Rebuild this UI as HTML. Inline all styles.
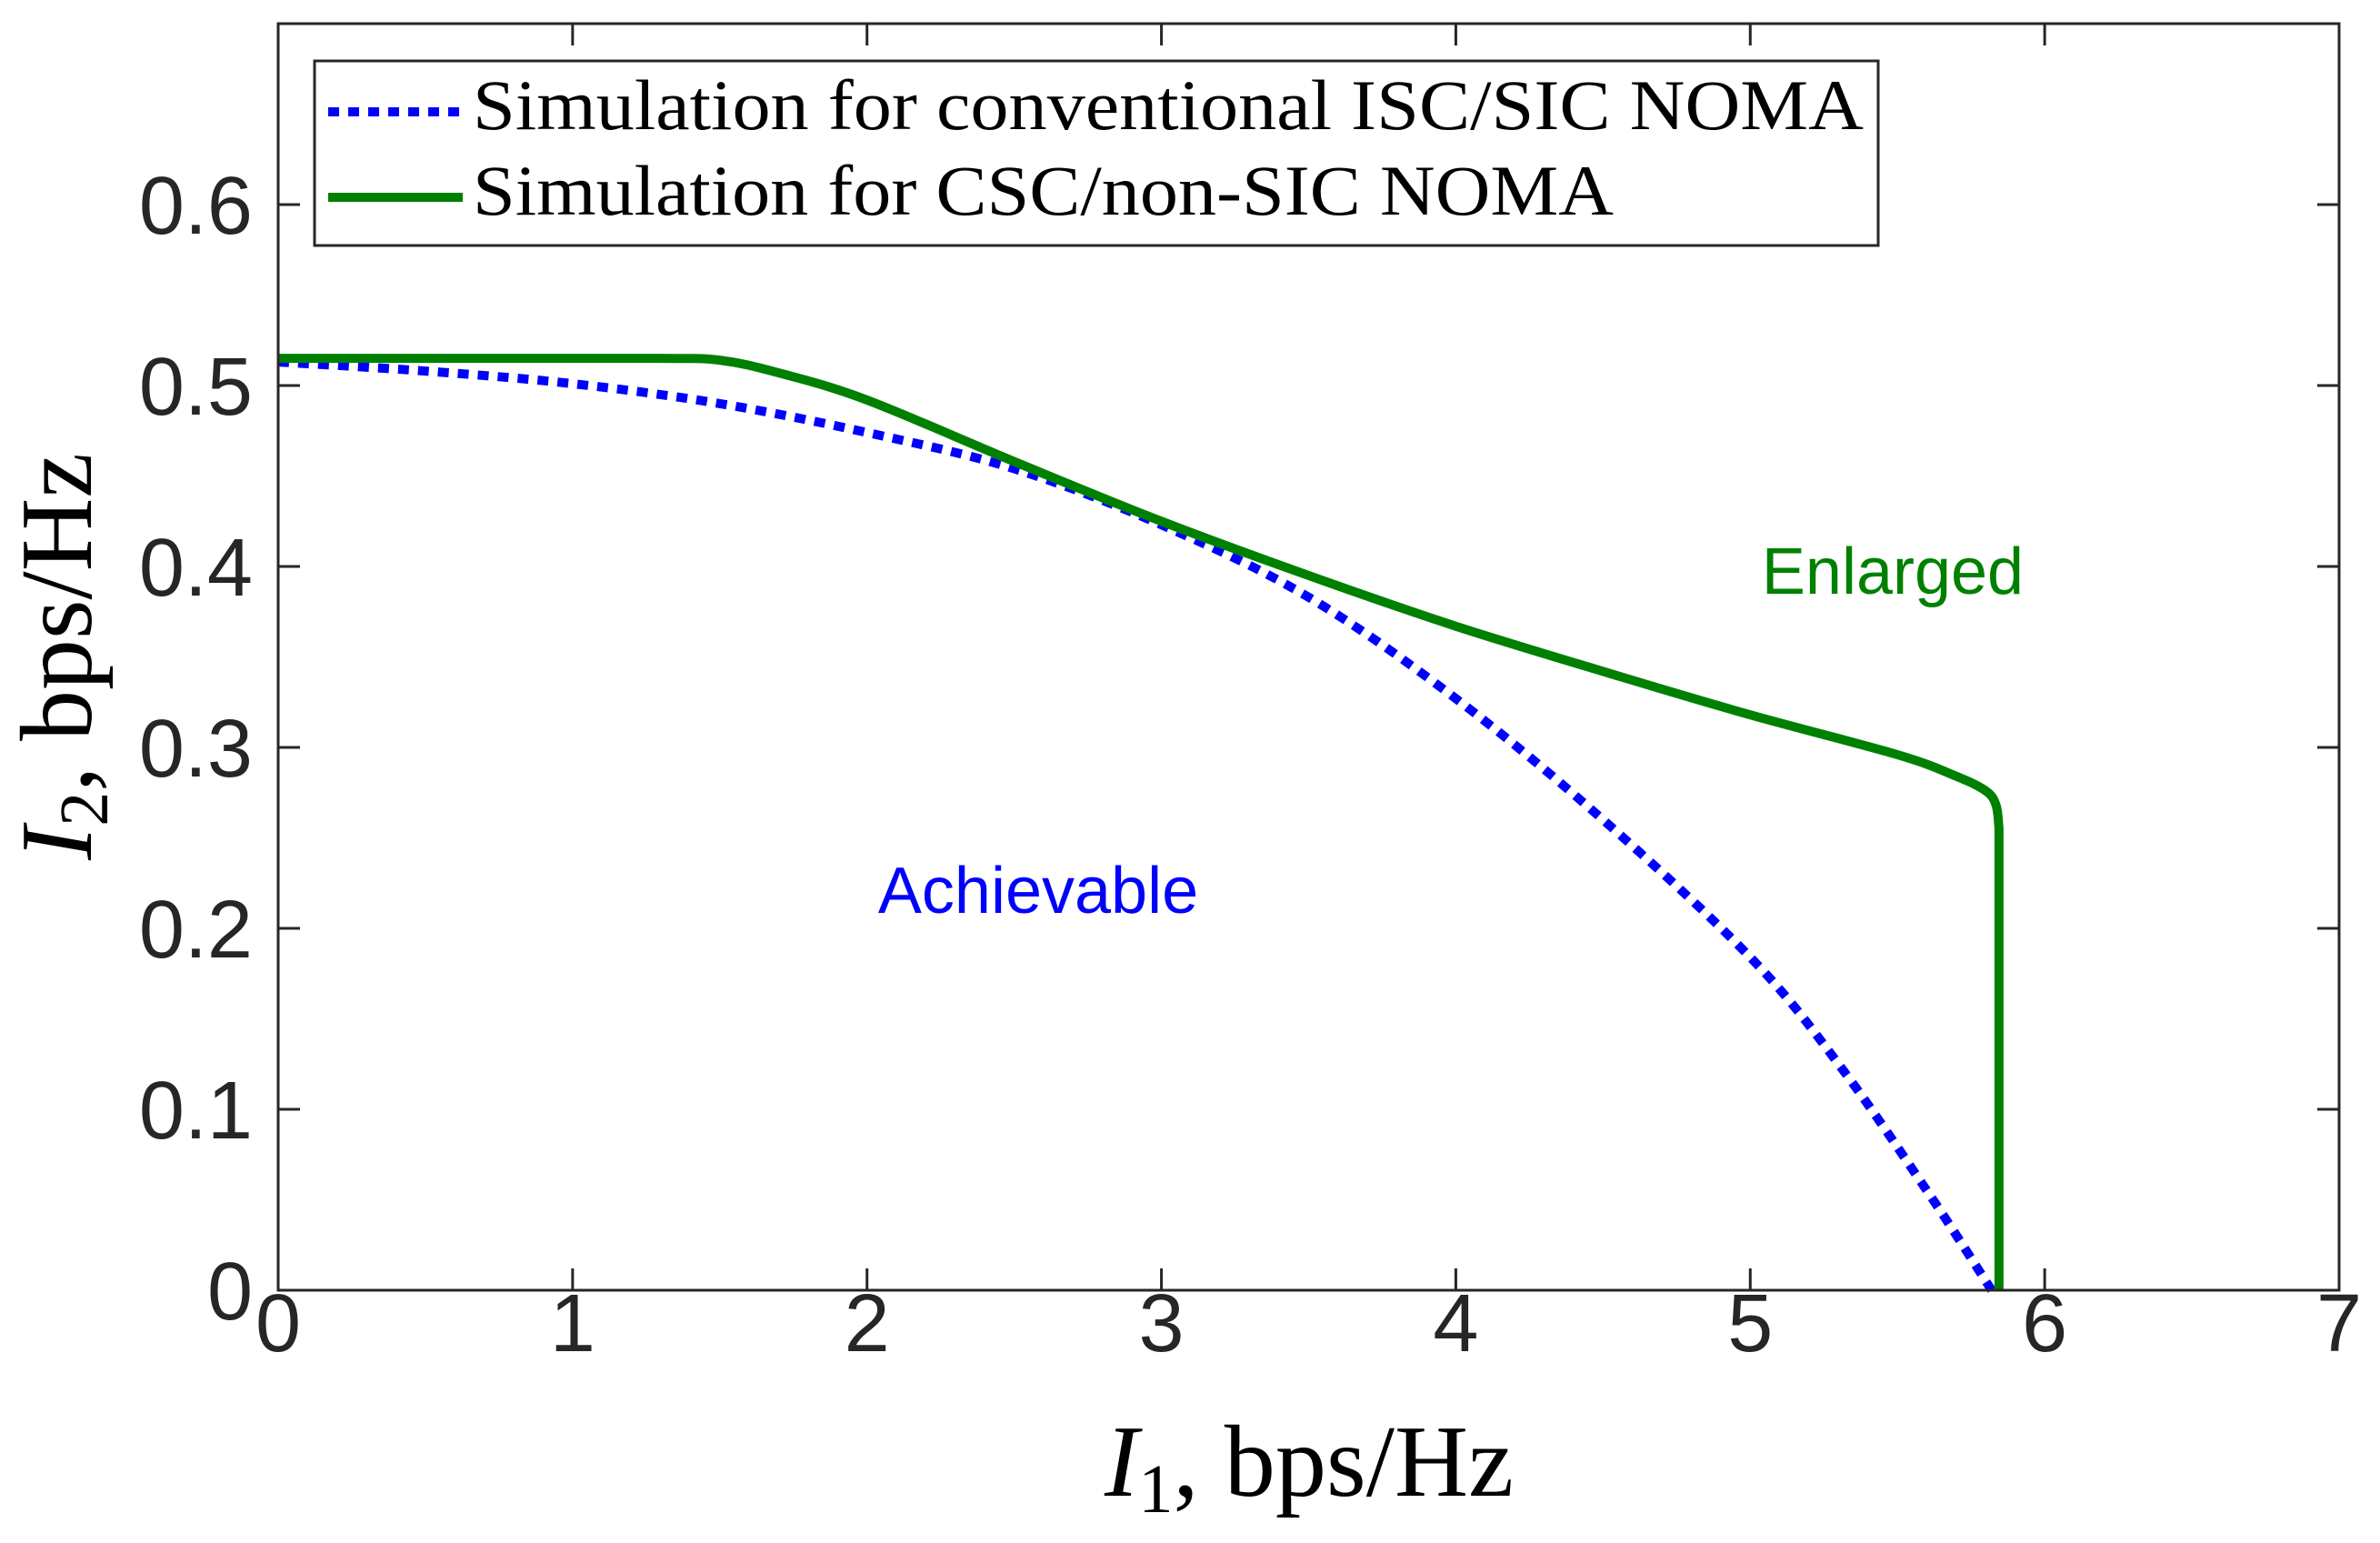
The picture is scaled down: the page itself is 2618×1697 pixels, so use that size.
<!DOCTYPE html>
<html><head><meta charset="utf-8"><style>
html,body{margin:0;padding:0;background:#fff;}
svg{display:block;}
</style></head><body>
<svg id="chart" width="2618" height="1697" viewBox="0 0 2618 1697" xmlns="http://www.w3.org/2000/svg">
<rect x="0" y="0" width="2618" height="1697" fill="#fff"/>
<g id="marks"></g>
<g id="axes"></g>
<text x="2082" y="653" font-family="Liberation Sans, sans-serif" font-size="72" fill="#008000" text-anchor="middle">Enlarged</text>
<text x="1142" y="1004" font-family="Liberation Sans, sans-serif" font-size="72" fill="#0000ff" text-anchor="middle">Achievable</text>
<g>
<rect x="346" y="67" width="1720" height="203" fill="#fff" stroke="#262626" stroke-width="3"/>
<line x1="361" y1="123" x2="509" y2="123" stroke="#0000ff" stroke-width="10" stroke-dasharray="12 10"/>
<text x="520" y="142" font-family="Liberation Serif, serif" font-size="78" textLength="1530" lengthAdjust="spacingAndGlyphs">Simulation for conventional ISC/SIC NOMA</text>
<line x1="361" y1="217" x2="509" y2="217" stroke="#008000" stroke-width="10"/>
<text x="520" y="236" font-family="Liberation Serif, serif" font-size="78" textLength="1255" lengthAdjust="spacingAndGlyphs">Simulation for CSC/non-SIC NOMA</text>
</g>
<text x="1440" y="1645" font-family="Liberation Serif, serif" font-size="112" text-anchor="middle" textLength="450" lengthAdjust="spacingAndGlyphs"><tspan font-style="italic">I</tspan><tspan font-size="76" dy="18">1</tspan><tspan dy="-18">, bps/Hz</tspan></text>
<text transform="translate(100,722) rotate(-90)" font-family="Liberation Serif, serif" font-size="112" text-anchor="middle" textLength="448" lengthAdjust="spacingAndGlyphs"><tspan font-style="italic">I</tspan><tspan font-size="76" dy="18">2</tspan><tspan dy="-18">, bps/Hz</tspan></text>
</svg>
<script>
const blueX=[0,0.5,1,1.5,2,2.5,3,3.5,4,4.5,5,5.3,5.6,5.82];
const blueY=[0.513,0.508,0.501,0.49,0.474,0.454,0.423,0.383,0.327,0.26,0.184,0.125,0.055,0];
const greenX=[0,0.7,1.3,1.5,1.7,2,2.5,3,3.5,4,4.5,5,5.5,5.7,5.8,5.835,5.845,5.845];
const greenY=[0.515,0.515,0.515,0.514,0.507,0.492,0.458,0.425,0.395,0.367,0.342,0.318,0.296,0.284,0.276,0.268,0.255,0];
const xTicks=[0,1,2,3,4,5,6,7];
const yTicks=[0,0.1,0.2,0.3,0.4,0.5,0.6];
const yTickLabels=["0","0.1","0.2","0.3","0.4","0.5","0.6"];
const L=306,R=2573,T=26,B=1419,XMAX=7,YMAX=0.7;
const sx=v=>L+(R-L)*v/XMAX, sy=v=>B-(B-T)*v/YMAX;
const NS="http://www.w3.org/2000/svg";
const marks=document.getElementById('marks'), axes=document.getElementById('axes');
function spline(p){
  let d='M'+p[0][0].toFixed(1)+','+p[0][1].toFixed(1);
  for(let i=0;i<p.length-1;i++){
    const p0=p[Math.max(i-1,0)],p1=p[i],p2=p[i+1],p3=p[Math.min(i+2,p.length-1)];
    const c1=[p1[0]+(p2[0]-p0[0])/6,p1[1]+(p2[1]-p0[1])/6];
    const c2=[p2[0]-(p3[0]-p1[0])/6,p2[1]-(p3[1]-p1[1])/6];
    d+='C'+c1[0].toFixed(1)+','+c1[1].toFixed(1)+' '+c2[0].toFixed(1)+','+c2[1].toFixed(1)+' '+p2[0].toFixed(1)+','+p2[1].toFixed(1);
  }
  return d;
}
function pts(xs,ys){return xs.map((x,i)=>[sx(x),sy(ys[i])]);}
const pb=document.createElementNS(NS,'path');
pb.setAttribute('d',spline(pts(blueX,blueY)));pb.setAttribute('fill','none');pb.setAttribute('stroke','#0000ff');pb.setAttribute('stroke-width','10');pb.setAttribute('stroke-dasharray','12 10');


marks.appendChild(pb);
const gp=pts(greenX,greenY);
const last=gp[gp.length-1];
const pg=document.createElementNS(NS,'path');
pg.setAttribute('d',spline(gp.slice(0,-1))+'L'+last[0].toFixed(1)+','+last[1].toFixed(1));pg.setAttribute('fill','none');pg.setAttribute('stroke','#008000');pg.setAttribute('stroke-width','10');pg.setAttribute('stroke-linejoin','round');


marks.appendChild(pg);
const box=document.createElementNS(NS,'rect');
box.setAttribute('x',L);box.setAttribute('y',T);box.setAttribute('width',R-L);box.setAttribute('height',B-T);box.setAttribute('fill','none');box.setAttribute('stroke','#262626');box.setAttribute('stroke-width','3');


axes.appendChild(box);
function ln(x1,y1,x2,y2,name){const l=document.createElementNS(NS,'line');l.setAttribute('x1',x1);l.setAttribute('y1',y1);l.setAttribute('x2',x2);l.setAttribute('y2',y2);l.setAttribute('stroke','#262626');l.setAttribute('stroke-width','3');


axes.appendChild(l);}
xTicks.forEach(v=>{const x=sx(v);ln(x,B,x,B-24,'x-tick');ln(x,T,x,T+24,'x-tick-top');
const t=document.createElementNS(NS,'text');t.setAttribute('x',x);t.setAttribute('y',1486);t.setAttribute('text-anchor','middle');t.setAttribute('font-family','Liberation Sans, sans-serif');t.setAttribute('font-size','90');t.setAttribute('fill','#262626');t.textContent=String(v);


axes.appendChild(t);});
yTicks.forEach((v,i)=>{const y=sy(v);ln(L,y,L+24,y,'y-tick');ln(R,y,R-24,y,'y-tick-right');
const t=document.createElementNS(NS,'text');t.setAttribute('x',278);t.setAttribute('y',y+32);t.setAttribute('text-anchor','end');t.setAttribute('font-family','Liberation Sans, sans-serif');t.setAttribute('font-size','90');t.setAttribute('fill','#262626');t.textContent=yTickLabels[i];


axes.appendChild(t);});
</script>
</body></html>
